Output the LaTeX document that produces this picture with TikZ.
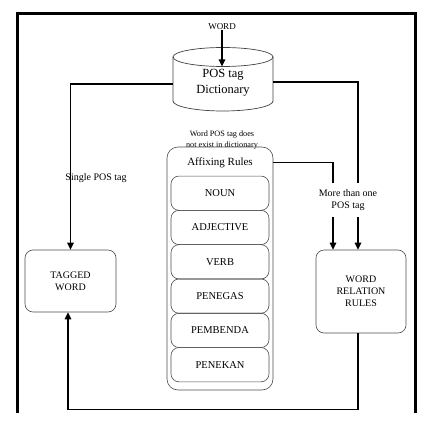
\documentclass[tikz,border=0pt]{standalone}
\usepackage{fontspec}
\setmainfont{Liberation Serif}
\usetikzlibrary{arrows.meta}
\begin{document}
\begin{tikzpicture}[x=1pt,y=-1pt,
  arr/.style={line width=1.2pt,-{Triangle[length=7pt,width=6.5pt]}},
  rbox/.style={draw=black!70,line width=0.6pt,rounded corners=8pt},
  item/.style={rbox,minimum width=98pt,minimum height=34.3pt,inner sep=0pt,font=\fontsize{10.5}{12}\selectfont},
  lbl/.style={font=\fontsize{10}{12}\selectfont,align=center,inner sep=0pt}]
\useasboundingbox (0,0) rectangle (433,425);
% frame
\draw[line width=3pt] (17,413) -- (17,14) -- (415,14) -- (415,413);
% dictionary cylinder
\draw[black!75,line width=0.7pt] (173,57) -- (173,101) arc[start angle=180,end angle=0,x radius=50,y radius=10] -- (273,57);
\draw[black!75,line width=0.7pt] (223,57) ellipse[x radius=50,y radius=9.5];
\node[lbl,font=\fontsize{12.5}{15.5}\selectfont,minimum width=100pt] (dict) at (223,82.5) {POS tag\\Dictionary};
\coordinate (dtop) at (222,66.5);
\node[lbl,font=\fontsize{9}{11}\selectfont] (word) at (222,27) {WORD};
\draw[arr] (word.south) -- (dtop);
\node[lbl,font=\fontsize{8.2}{10.5}\selectfont] (note) at (222,140) {Word POS tag does\\not exist in dictionary};
% affixing rules
\node[rbox,rounded corners=11pt,minimum width=106pt,minimum height=243pt,inner sep=0pt] (affix) at (220,268.5) {};
\node[lbl,font=\fontsize{11}{13}\selectfont] (afftitle) at (220,162.5) {Affixing Rules};
\node[item] (i1) at (220,193.2) {NOUN};
\node[item] (i2) at (220,227.5) {ADJECTIVE};
\node[item] (i3) at (220,261.8) {VERB};
\node[item] (i4) at (220,296.1) {PENEGAS};
\node[item] (i5) at (220,330.4) {PEMBENDA};
\node[item] (i6) at (220,364.7) {PENEKAN};
% side boxes
\node[rbox,minimum width=91pt,minimum height=62pt,lbl] (tagged) at (70.5,281) {TAGGED\\WORD};
\node[rbox,minimum width=90pt,minimum height=83pt,lbl] (wrr) at (361,291.5) {WORD\\RELATION\\RULES};
% connectors
\draw[arr] ([yshift=-1.5pt]dict.west) -| (tagged.north);
\draw[arr] ([yshift=0.5pt]dict.east) -| ([xshift=-3pt]wrr.north);
\draw[arr] (afftitle.east -| affix.east) -| ([xshift=-28pt]wrr.north);
\draw[arr] ([xshift=-3pt]wrr.south) -- ++(0,76) -| ([xshift=-2.5pt]tagged.south);
% labels
\node[lbl,fill=white,inner xsep=3pt,inner ysep=6pt] (more) at (348,200) {More than one\\POS tag};
\node[lbl] (single) at (96,178) {Single POS tag};
\end{tikzpicture}
\end{document}
